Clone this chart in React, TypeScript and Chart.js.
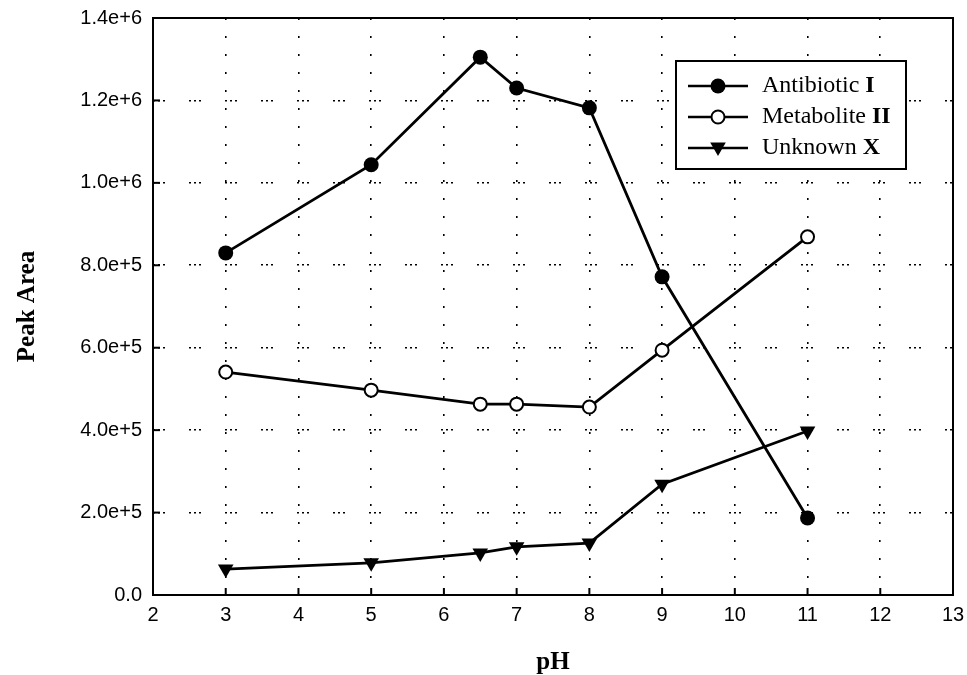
import React, { useEffect, useRef } from "react";
import { Chart, registerables } from "chart.js";

Chart.register(...registerables);

const phValues = [3, 5, 6.5, 7, 8, 9, 11];
const antibioticI = [830000, 1044000, 1305000, 1230000, 1182000, 772000, 187000];
const metaboliteII = [541000, 497000, 463000, 463000, 456000, 594000, 869000];
const unknownX = [63000, 78000, 102000, 117000, 126000, 269000, 398000];

const legendNames = [
  { base: "Antibiotic ", bold: "I", style: "filled" },
  { base: "Metabolite ", bold: "II", style: "open" },
  { base: "Unknown ", bold: "X", style: "triangle" },
];

const serif = "'Liberation Serif', 'Times New Roman', serif";
const sans = "'Liberation Sans', Arial, sans-serif";

function drawMarker(ctx: CanvasRenderingContext2D, style: string, x: number, y: number) {
  ctx.save();
  ctx.lineWidth = 2;
  ctx.strokeStyle = "#000";
  if (style === "filled") {
    ctx.beginPath();
    ctx.arc(x, y, 7.5, 0, Math.PI * 2);
    ctx.fillStyle = "#000";
    ctx.fill();
  } else if (style === "open") {
    ctx.beginPath();
    ctx.arc(x, y, 6.5, 0, Math.PI * 2);
    ctx.fillStyle = "#fff";
    ctx.fill();
    ctx.stroke();
  } else {
    const r = 9;
    ctx.beginPath();
    ctx.moveTo(x - r * 0.866, y - r * 0.5);
    ctx.lineTo(x + r * 0.866, y - r * 0.5);
    ctx.lineTo(x, y + r);
    ctx.closePath();
    ctx.fillStyle = "#000";
    ctx.fill();
  }
  ctx.restore();
}

const framePlugin = {
  id: "frameAndTicks",
  beforeDatasetsDraw(chart: any) {
    const { ctx, chartArea } = chart;
    const { left, right, top, bottom } = chartArea;
    ctx.save();
    ctx.strokeStyle = "#000";
    ctx.lineWidth = 2;
    ctx.setLineDash([]);
    ctx.strokeRect(left, top, right - left, bottom - top);
    const ys = chart.scales.y;
    ys.ticks.forEach((t: any) => {
      const py = ys.getPixelForValue(t.value);
      ctx.beginPath();
      ctx.moveTo(left, py);
      ctx.lineTo(left + 7, py);
      ctx.stroke();
    });
    const xs = chart.scales.x;
    xs.ticks.forEach((t: any) => {
      const px = xs.getPixelForValue(t.value);
      ctx.beginPath();
      ctx.moveTo(px, bottom);
      ctx.lineTo(px, bottom - 7);
      ctx.stroke();
    });
    ctx.restore();
  },
  afterDraw(chart: any) {
    const { ctx } = chart;
    const bx = 676, by = 61, bw = 230, bh = 108;
    ctx.save();
    ctx.fillStyle = "#fff";
    ctx.fillRect(bx, by, bw, bh);
    ctx.strokeStyle = "#000";
    ctx.lineWidth = 2;
    ctx.strokeRect(bx, by, bw, bh);
    const rows = [86, 117, 148];
    legendNames.forEach((item, i) => {
      const y = rows[i];
      ctx.beginPath();
      ctx.lineWidth = 2.5;
      ctx.moveTo(688, y);
      ctx.lineTo(748, y);
      ctx.stroke();
      drawMarker(ctx, item.style, 718, item.style === "triangle" ? y - 1 : y);
      ctx.fillStyle = "#000";
      ctx.textBaseline = "middle";
      ctx.textAlign = "left";
      ctx.font = `24px ${serif}`;
      ctx.fillText(item.base, 762, y);
      const w = ctx.measureText(item.base).width;
      ctx.font = `bold 24px ${serif}`;
      ctx.fillText(item.bold, 762 + w, y);
    });
    ctx.restore();
  },
};

export default function App() {
  const ref = useRef<HTMLCanvasElement | null>(null);
  useEffect(() => {
    if (!ref.current) return;
    const mk = (arr: number[]) => phValues.map((x, i) => ({ x, y: arr[i] }));
    const chart = new Chart(ref.current, {
      type: "line",
      data: {
        datasets: [
          {
            label: "Antibiotic I",
            data: mk(antibioticI),
            borderColor: "#000",
            backgroundColor: "#000",
            borderWidth: 2.8,
            pointRadius: 7.5,
            pointBorderWidth: 0,
            pointBackgroundColor: "#000",
            pointStyle: "circle",
          },
          {
            label: "Metabolite II",
            data: mk(metaboliteII),
            borderColor: "#000",
            backgroundColor: "#fff",
            borderWidth: 2.8,
            pointRadius: 6.5,
            pointBorderWidth: 2,
            pointBorderColor: "#000",
            pointBackgroundColor: "#fff",
            pointStyle: "circle",
          },
          {
            label: "Unknown X",
            data: mk(unknownX),
            borderColor: "#000",
            backgroundColor: "#000",
            borderWidth: 2.8,
            pointRadius: 9,
            pointBorderWidth: 0,
            pointBackgroundColor: "#000",
            pointStyle: "triangle",
            pointRotation: 180,
          },
        ],
      },
      options: {
        responsive: false,
        animation: false,
        layout: { padding: { top: 18, right: 14, left: 0, bottom: 0 } },
        plugins: { legend: { display: false }, tooltip: { enabled: false } },
        scales: {
          x: {
            type: "linear",
            min: 2,
            max: 13,
            ticks: {
              stepSize: 1,
              color: "#000",
              padding: 8,
              font: { family: sans, size: 20 },
              maxRotation: 0,
            },
            grid: { color: "#000", lineWidth: 1.6, drawTicks: false },
            border: { display: false, dash: [2, 16] },
            title: {
              display: true,
              text: "pH",
              color: "#000",
              font: { family: serif, size: 25, weight: "bold" },
              padding: { top: 0, bottom: -3 },
            },
            afterFit: (s: any) => {
              s.height = 80;
              s.paddingLeft = 0;
              s.paddingRight = 0;
            },
          },
          y: {
            type: "linear",
            min: 0,
            max: 1400000,
            ticks: {
              stepSize: 200000,
              color: "#000",
              padding: 11,
              font: { family: sans, size: 20 },
              callback: (v: any) => (Number(v) === 0 ? "0.0" : Number(v).toExponential(1)),
            },
            grid: { color: "#000", lineWidth: 1.6, drawTicks: false },
            border: { display: false, dash: [2, 3, 2, 3, 2, 24] },
            title: {
              display: true,
              text: "Peak Area",
              color: "#000",
              font: { family: serif, size: 25, weight: "bold" },
              padding: { top: 13, bottom: 0 },
            },
            afterFit: (s: any) => {
              s.width = 153;
              s.paddingTop = 0;
              s.paddingBottom = 0;
            },
          },
        },
      },
      plugins: [framePlugin],
    } as any);
    return () => chart.destroy();
  }, []);
  return (
    <div style={{ position: "fixed", left: 0, top: 0, width: 967, height: 675, background: "#fff" }}>
      <canvas ref={ref} width={967} height={675} />
    </div>
  );
}
